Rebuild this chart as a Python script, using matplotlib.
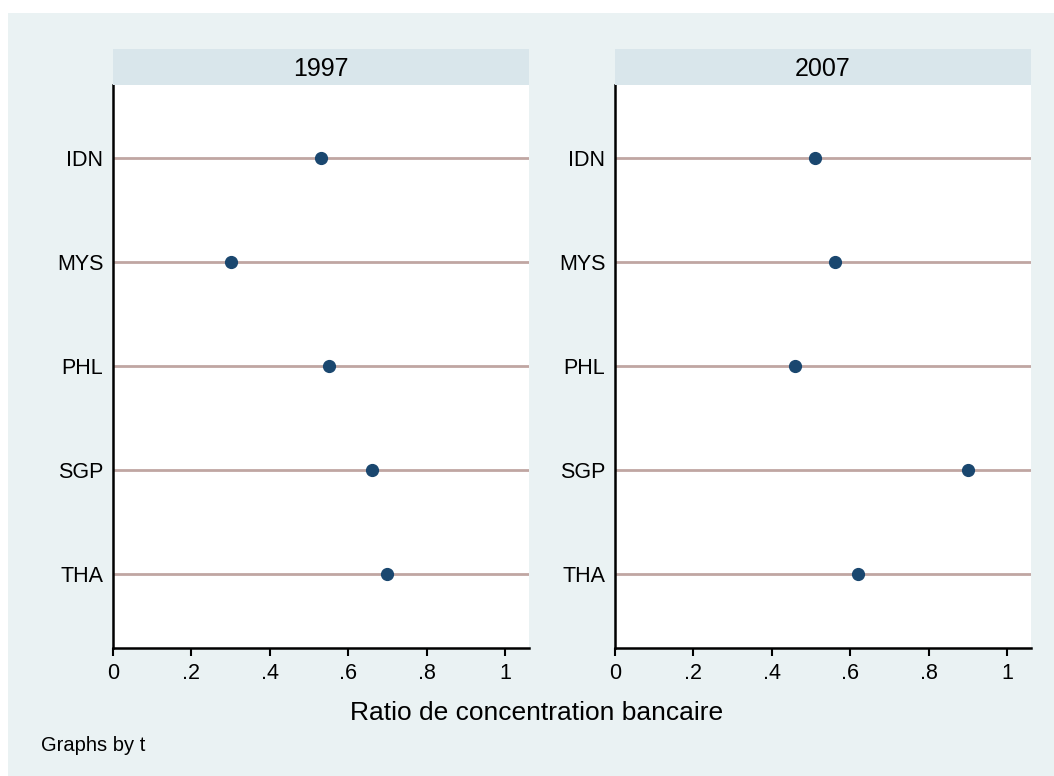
import matplotlib
matplotlib.use('Agg')
import matplotlib.pyplot as plt
from matplotlib.patches import Rectangle

plt.rcParams['font.family'] = ['Liberation Sans', 'DejaVu Sans']

countries = ['IDN', 'MYS', 'PHL', 'SGP', 'THA']
years = ['1997', '2007']
ratio_1997 = [0.53, 0.30, 0.55, 0.66, 0.70]
ratio_2007 = [0.51, 0.56, 0.46, 0.90, 0.62]
xticks = [0, 0.2, 0.4, 0.6, 0.8, 1.0]
xtick_labels = ['0', '.2', '.4', '.6', '.8', '1']

W, H = 1054, 776
bg = '#EAF2F3'
strip_col = '#D9E6EB'
line_col = '#C0A6A2'
dot_col = '#1A476F'

fig = plt.figure(figsize=(W / 100, H / 100), dpi=100)
fig.patch.set_facecolor('white')
fig.patches.append(Rectangle((8 / W, 0), 1 - 8 / W, 1 - 13 / H,
                             transform=fig.transFigure, facecolor=bg,
                             edgecolor='none', zorder=-10))


def px_axes(x0, y0, x1, y1):
    # pixel box (top-left origin) -> figure coords
    return fig.add_axes([x0 / W, (H - y1) / H, (x1 - x0) / W, (y1 - y0) / H])


panels = [(113, 529, ratio_1997), (615, 1031, ratio_2007)]
ypos = list(range(1, len(countries) + 1))

for (x0, x1, vals), year in zip(panels, years):
    ax = px_axes(x0, 85, x1, 648)
    ax.set_facecolor('white')
    ax.hlines(ypos, 0, 1.2, color=line_col, linewidth=2.0, zorder=1)
    ax.plot(vals, ypos, 'o', color=dot_col, markersize=8.5, zorder=3)
    ax.set_xlim(0, 1.061)
    ax.set_ylim(5.71, 0.30)
    ax.set_yticks(ypos)
    ax.set_yticklabels(countries, fontsize=15.5)
    ax.set_xticks(xticks)
    ax.set_xticklabels(xtick_labels, fontsize=15.5)
    ax.tick_params(axis='y', length=0, pad=7)
    ax.tick_params(axis='x', length=6, width=1.5, pad=5, direction='out')
    for s in ['top', 'right']:
        ax.spines[s].set_visible(False)
    for s in ['left', 'bottom']:
        ax.spines[s].set_linewidth(1.8)
        ax.spines[s].set_color('black')

    sax = px_axes(x0, 49, x1, 85)
    sax.set_facecolor(strip_col)
    sax.set_xticks([])
    sax.set_yticks([])
    for s in sax.spines.values():
        s.set_visible(False)
    sax.text(0.5, 0.5, year, ha='center', va='center_baseline', fontsize=18,
             transform=sax.transAxes)

fig.text(537 / W, 1 - 720 / H, 'Ratio de concentration bancaire',
         ha='center', va='baseline', fontsize=19)
fig.text(41 / W, 1 - 751 / H, 'Graphs by t', ha='left', va='baseline', fontsize=14.5)

fig.savefig('out.png', dpi=100, facecolor=fig.get_facecolor())
